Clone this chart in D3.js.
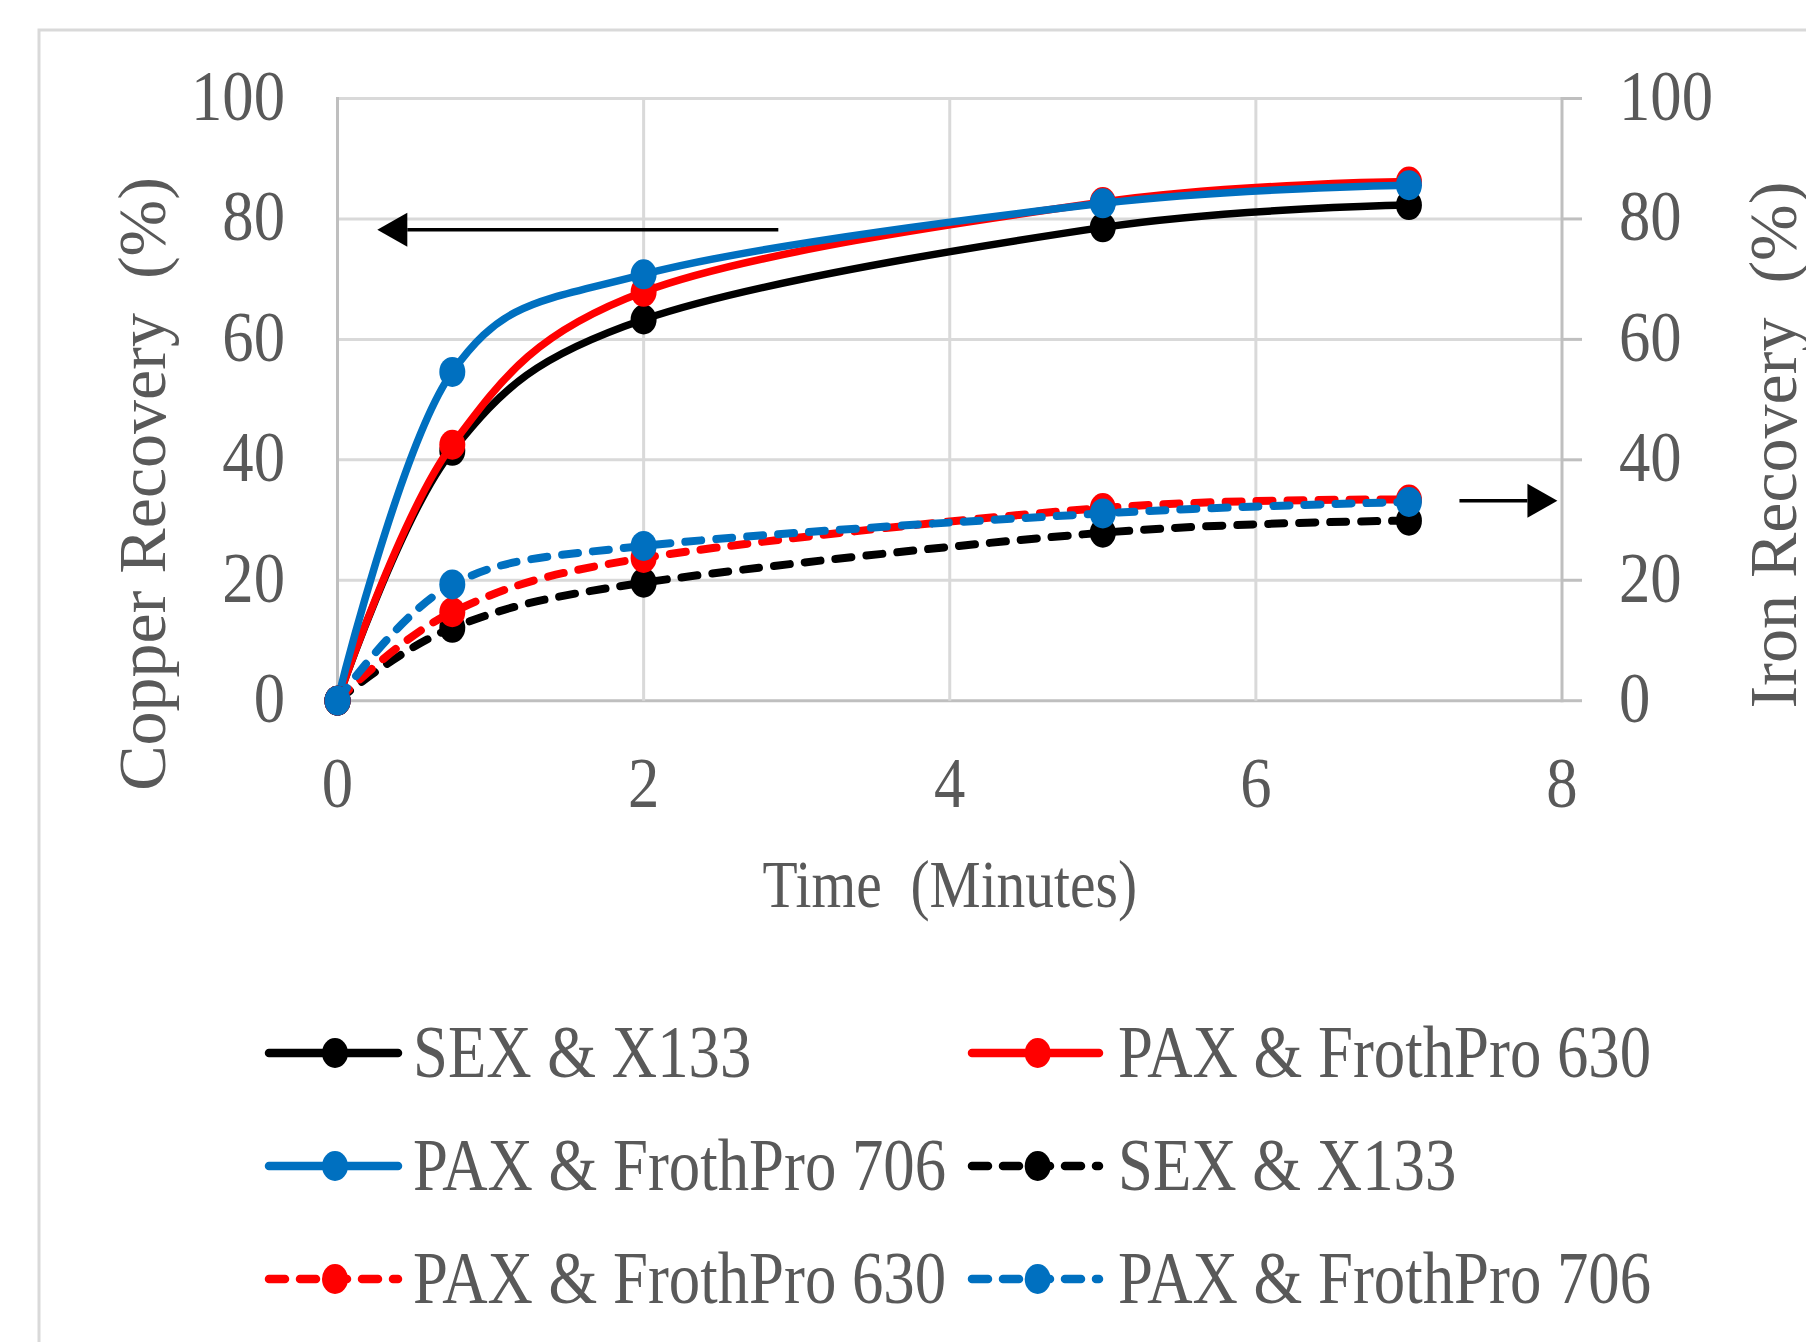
<!DOCTYPE html>
<html>
<head>
<meta charset="utf-8">
<script src="https://cdn.jsdelivr.net/npm/d3@7"></script>
<style>
  html, body { margin: 0; padding: 0; background: #ffffff; }
  svg { display: block; }
  text { font-family: "Liberation Serif", "Times New Roman", serif; fill: #595959; white-space: pre; }
</style>
</head>
<body>
<svg id="chart" width="1806" height="1342"></svg>
<script>
// ---------- data ----------
const times = [0, 0.75, 2, 5, 7];
const seriesNames = ["SEX & X133", "PAX & FrothPro 630", "PAX & FrothPro 706"];
const copperSEX = [0, 41.5, 63.3, 78.6, 82.3];
const copperPAX630 = [0, 42.5, 67.9, 82.8, 86.2];
const copperPAX706 = [0, 54.6, 70.8, 82.6, 85.6];
const ironSEX = [0, 12.1, 19.6, 27.9, 29.9];
const ironPAX630 = [0, 14.7, 23.7, 32.0, 33.4];
const ironPAX706 = [0, 19.3, 25.7, 31.1, 33.0];
const xTicks = [0, 2, 4, 6, 8];
const yTicks = [0, 20, 40, 60, 80, 100];
const xTitle = "Time  (Minutes)";
const yLeftTitle = "Copper Recovery  (%)";
const yRightTitle = "Iron Recovery  (%)";
// annotation arrows in data units: [y, from x, to x]
const arrowLeft = [78.2, 2.88, 0.26];
const arrowRight = [33.2, 7.33, 7.97];

// ---------- setup ----------
const colors = ["#000000", "#FF0000", "#0070C0"];
const SX = 0.87; // horizontal squeeze of the original picture
const svg = d3.select("#chart");

const x = d3.scaleLinear().domain([0, 8]).range([337.5, 1562]);
const yL = d3.scaleLinear().domain([0, 100]).range([700.7, 98.5]);
const yR = d3.scaleLinear().domain([0, 100]).range([700.7, 98.5]);

// chart-area border (top and left visible)
svg.append("path")
  .attr("d", `M39,1342 L39,30 L1806,30`)
  .attr("fill", "none").attr("stroke", "#d9d9d9").attr("stroke-width", 3);

const grid = svg.append("g");
// horizontal gridlines + right axis ticks
grid.selectAll("line.h").data(yTicks).join("line")
  .attr("x1", x(0)).attr("x2", x(8))
  .attr("y1", d => yL(d)).attr("y2", d => yL(d))
  .attr("stroke", d => d === 0 ? "#bfbfbf" : "#d9d9d9").attr("stroke-width", 3);
grid.selectAll("line.rt").data(yTicks).join("line")
  .attr("x1", x(8)).attr("x2", x(8) + 20)
  .attr("y1", d => yR(d)).attr("y2", d => yR(d))
  .attr("stroke", "#bfbfbf").attr("stroke-width", 3);
// vertical gridlines
grid.selectAll("line.v").data(xTicks.filter(d => d > 0 && d < 8)).join("line")
  .attr("x1", d => x(d)).attr("x2", d => x(d))
  .attr("y1", yL(100)).attr("y2", yL(0))
  .attr("stroke", "#d9d9d9").attr("stroke-width", 3);
// axis lines
grid.append("line").attr("x1", x(0)).attr("x2", x(0)).attr("y1", yL(100) - 1.5).attr("y2", yL(0) + 1.5)
  .attr("stroke", "#bfbfbf").attr("stroke-width", 3);
grid.append("line").attr("x1", x(8)).attr("x2", x(8)).attr("y1", yR(100) - 1.5).attr("y2", yR(0) + 1.5)
  .attr("stroke", "#bfbfbf").attr("stroke-width", 3);

// ---------- text helpers ----------
function hText(str, px, py, size, anchor, sx) {
  return svg.append("text")
    .attr("transform", `translate(${px},${py}) scale(${sx || SX},1)`)
    .attr("text-anchor", anchor)
    .attr("font-size", size)
    .text(str);
}

// tick labels
yTicks.forEach(v => hText(String(v), 285, yL(v) + 21.5, 72, "end"));
yTicks.forEach(v => hText(String(v), 1619, yR(v) + 21.5, 72, "start"));
xTicks.forEach(v => hText(String(v), x(v), 807, 72, "middle"));

// axis titles
hText(xTitle, (x(0) + x(8)) / 2, 906.7, 68, "middle", 0.845);
svg.append("text").attr("transform", "translate(165,484) rotate(-90)")
  .attr("text-anchor", "middle").attr("font-size", 68).text(yLeftTitle);
svg.append("text").attr("transform", "translate(1796,445) rotate(-90)")
  .attr("text-anchor", "middle").attr("font-size", 68).text(yRightTitle);

// ---------- series ----------
const copper = [copperSEX, copperPAX630, copperPAX706];
const iron = [ironSEX, ironPAX630, ironPAX706];
const curve = d3.curveCardinal.tension(0);

const series = [];
copper.forEach((vals, i) => series.push({ name: seriesNames[i], vals, scale: yL, color: colors[i], dashed: false }));
iron.forEach((vals, i) => series.push({ name: seriesNames[i], vals, scale: yR, color: colors[i], dashed: true }));

const LW = 7.5;
const LWD = 8;
const DASH = "16,15";
const RX = 13 , RY = 15;

series.forEach(s => {
  const pts = times.map((t, k) => [t, s.vals[k]]);
  const line = d3.line().x(d => x(d[0])).y(d => s.scale(d[1])).curve(curve);
  const g = svg.append("g");
  g.append("path").attr("d", line(pts))
    .attr("fill", "none").attr("stroke", s.color).attr("stroke-width", s.dashed ? LWD : LW)
    .attr("stroke-linecap", "round").attr("stroke-linejoin", "round")
    .attr("stroke-dasharray", s.dashed ? DASH : null);
  g.selectAll("ellipse").data(pts).join("ellipse")
    .attr("cx", d => x(d[0])).attr("cy", d => s.scale(d[1]))
    .attr("rx", RX).attr("ry", RY).attr("fill", s.color);
});

// ---------- arrows ----------
function arrow(a, scale) {
  const [yv, from, to] = a;
  const py = scale(yv), x0 = x(from), x1 = x(to);
  const dir = Math.sign(x1 - x0);
  const base = x1 - dir * 30;
  svg.append("line").attr("x1", x0).attr("x2", base).attr("y1", py).attr("y2", py)
    .attr("stroke", "#000").attr("stroke-width", 3.5);
  svg.append("path").attr("d", `M${x1},${py} L${base},${py - 17} L${base},${py + 17} Z`).attr("fill", "#000");
}
arrow(arrowLeft, yL);
arrow(arrowRight, yR);

// ---------- legend ----------
const legendOrder = [0, 1, 2, 3, 4, 5];
const colX = [{ l0: 265, l1: 402, m: 335, t: 413 }, { l0: 968, l1: 1103, m: 1037.7, t: 1118 }];
const rowY = [1053, 1166, 1279];
legendOrder.forEach((si, k) => {
  const s = series[si];
  const c = colX[k % 2], ry = rowY[Math.floor(k / 2)];
  svg.append("line").attr("x1", c.l0 + 4).attr("x2", c.l1 - 4).attr("y1", ry).attr("y2", ry)
    .attr("stroke", s.color).attr("stroke-width", LW + 1).attr("stroke-linecap", "round")
    .attr("stroke-dasharray", s.dashed ? DASH : null);
  svg.append("ellipse").attr("cx", c.m).attr("cy", ry).attr("rx", RX).attr("ry", RY).attr("fill", s.color);
  hText(s.name, c.t, ry + 24, 73, "start", 0.86);
});
</script>
</body>
</html>
